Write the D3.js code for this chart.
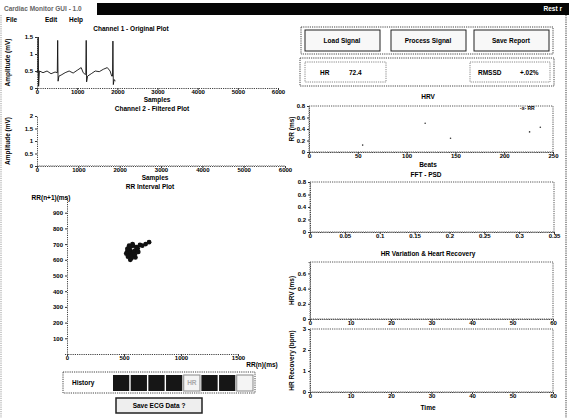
<!DOCTYPE html>
<html><head><meta charset="utf-8">
<script src="https://cdn.jsdelivr.net/npm/d3@7"></script>
<style>
body{margin:0;background:#fff;}
svg{display:block;font-family:"Liberation Sans",Arial,sans-serif;}
.t{font-size:6.5px;font-weight:bold;fill:#000;}
.tick text{font-size:6px;font-weight:bold;fill:#000;}
.tick line{stroke:#333;}
.domain{stroke:#444;stroke-dasharray:1.2,1;}
</style></head>
<body>
<svg id="c" width="569" height="418"></svg>
<script>
// ---------------- data ----------------
const windowTitle = "Cardiac Monitor GUI - 1.0";
const menuItems = ["File", "Edit", "Help"];
const buttonLabels = ["Load Signal", "Process Signal", "Save Report"];
const statLabels = ["HR", "72.4", "RMSSD", "+.02%"];

const ch1Samples = [0,20,30,40,60,150,250,350,450,505,515,525,545,600,700,800,900,1000,1100,1150,1200,1215,1225,1235,1260,1350,1450,1550,1650,1750,1820,1860,1880,1890,1900,1920,1950];
const ch1Values  = [0.45,0.5,1.5,0.05,0.5,0.45,0.5,0.42,0.47,0.45,1.4,0.2,0.35,0.38,0.45,0.5,0.44,0.52,0.6,0.45,0.4,0.4,1.4,0.18,0.35,0.42,0.5,0.48,0.55,0.6,0.5,0.35,0.35,1.38,0.1,0.25,0.2];
const ch1Ticks = [0,1000,2000,3000,4000,5000,6000];
const ch1YTicks = [0,0.5,1,1.5];

const ch2Samples = [0,6000];
const ch2Values  = [0.02,0.02];
const ch2YTicks = [0,0.5,1,1.5,2];

const rrN  = [520,530,545,560,535,550,575,590,540,565,580,600,620,555,570,610,640,660,690,720,585,600,625,545,530,575,595,560];
const rrN1 = [640,655,630,650,620,665,640,655,675,610,690,660,672,600,625,680,695,690,700,712,645,615,650,690,670,700,635,685];
const rrXTicks = [0,500,1000,1500];
const rrYTicks = [100,200,300,400,500,600,700,800,900];

const hrvBeats = [55,119,145,226,237];
const hrvValues = [0.12,0.5,0.24,0.35,0.43];
const hrvXTicks = [0,50,100,150,200,250];
const hrvYTicks = [0,0.2,0.4,0.6,0.8];

const psdXTicks = [0,0.05,0.1,0.15,0.2,0.25,0.3,0.35];
const psdYTicks = [0,0.2,0.4,0.6,0.8];

const timeTicks = [0,10,20,30,40,50,60];
const hrvTopYTicks = [0,0.2,0.4,0.6];
const hrrYTicks = [0,1,2,3];

const historyCells = [1,1,1,1,0,1,1,0];

// ---------------- drawing ----------------
const svg = d3.select("#c");
const dash = "1.2,1";

// window chrome
svg.append("rect").attr("x",97).attr("y",3).attr("width",472).attr("height",12).attr("fill","#050505");
svg.append("text").attr("class","t").attr("x",4).attr("y",11).style("fill","#666").text(windowTitle);
svg.append("text").attr("class","t").attr("x",562).attr("y",11).attr("text-anchor","end").style("fill","#fff").text("Rest r");
menuItems.forEach((m,i)=>{
  svg.append("text").attr("class","t").attr("x",[6,45,69][i]).attr("y",22).text(m);
});
svg.append("line").attr("x1",566).attr("x2",566).attr("y1",15).attr("y2",418).attr("stroke","#333").attr("stroke-dasharray",dash);
svg.append("line").attr("x1",1).attr("x2",1).attr("y1",15).attr("y2",418).attr("stroke","#999").attr("stroke-dasharray",dash);

function panel(o){
  const g = svg.append("g");
  const x = d3.scaleLinear().domain(o.xd).range([o.x0,o.x1]);
  const y = d3.scaleLinear().domain(o.yd).range([o.y1,o.y0]);
  if(o.frame){
    g.append("rect").attr("x",o.x0).attr("y",o.y0).attr("width",o.x1-o.x0).attr("height",o.y1-o.y0)
     .attr("fill","none").attr("stroke","#555").attr("stroke-dasharray",dash);
  }
  const ax = g.append("g").attr("transform",`translate(0,${o.y1})`)
    .call(d3.axisBottom(x).tickValues(o.xt).tickSize(2).tickPadding(1).tickFormat(o.xf||d3.format("")));
  const ay = g.append("g").attr("transform",`translate(${o.x0},0)`)
    .call(d3.axisLeft(y).tickValues(o.yt).tickSize(2).tickPadding(2).tickFormat(o.yf||d3.format("")));
  ax.selectAll("text").attr("dy","0.55em");
  if(o.title) svg.append("text").attr("class","t").attr("x",o.tx).attr("y",o.ty).attr("text-anchor","middle").text(o.title);
  if(o.xl) svg.append("text").attr("class","t").attr("x",o.xlx).attr("y",o.xly).attr("text-anchor","middle").text(o.xl);
  if(o.yl) svg.append("text").attr("class","t").attr("transform",`translate(${o.ylx},${(o.y0+o.y1)/2}) rotate(-90)`).attr("text-anchor","middle").text(o.yl);
  return {g,x,y};
}

// Channel 1
const p1 = panel({x0:37,x1:278,y0:37,y1:88,xd:[0,6000],yd:[0,1.5],xt:ch1Ticks,yt:ch1YTicks,
  title:"Channel 1 - Original Plot",tx:131,ty:31,xl:"Samples",xlx:157,xly:102,yl:"Amplitude (mV)",ylx:10});
p1.g.append("path").datum(ch1Samples.map((s,i)=>[s,ch1Values[i]]))
  .attr("d",d3.line().x(d=>p1.x(d[0])).y(d=>p1.y(d[1])))
  .attr("fill","none").attr("stroke","#111").attr("stroke-width",0.9);

// Channel 2
const p2 = panel({x0:37,x1:285,y0:116,y1:166,xd:[0,6000],yd:[0,2],xt:ch1Ticks,yt:ch2YTicks,
  title:"Channel 2 - Filtered Plot",tx:152,ty:111,xl:"Samples",xlx:155,xly:180,yl:"Amplitude (mV)",ylx:10});
p2.g.append("path").datum(ch2Samples.map((s,i)=>[s,ch2Values[i]]))
  .attr("d",d3.line().x(d=>p2.x(d[0])).y(d=>p2.y(d[1])))
  .attr("fill","none").attr("stroke","#666").attr("stroke-width",0.6).attr("stroke-dasharray",dash);

// Poincare
const p3 = panel({x0:67,x1:238,y0:197,y1:354,xd:[0,1500],yd:[0,1000],xt:rrXTicks,yt:rrYTicks,
  title:"RR Interval Plot",tx:150,ty:189});
svg.append("text").attr("class","t").attr("x",51).attr("y",200).attr("text-anchor","middle").text("RR(n+1)(ms)");
svg.append("text").attr("class","t").attr("x",262).attr("y",367).attr("text-anchor","middle").text("RR(n)(ms)");
p3.g.selectAll("circle").data(rrN).join("circle")
  .attr("cx",d=>p3.x(d)).attr("cy",(d,i)=>p3.y(rrN1[i])).attr("r",2.4).attr("fill","#111");

// History strip
svg.append("rect").attr("x",63).attr("y",372).attr("width",192).attr("height",21).attr("fill","#fff").attr("stroke","#444").attr("stroke-dasharray",dash);
svg.append("text").attr("class","t").attr("x",72).attr("y",385).text("History");
const cx = d3.scaleBand().domain(d3.range(historyCells.length)).range([113,253]).paddingInner(0.08);
svg.selectAll(".cell").data(historyCells).join("rect").attr("class","cell")
  .attr("x",(d,i)=>cx(i)).attr("y",375).attr("width",cx.bandwidth()).attr("height",16)
  .attr("fill",d=>d?"#161616":"#f4f4f4").attr("stroke",d=>d?"none":"#888");
svg.append("text").attr("class","t").attr("x",cx(4)+cx.bandwidth()/2).attr("y",385).attr("text-anchor","middle").style("fill","#aaa").text("HR");
svg.append("rect").attr("x",116).attr("y",398).attr("width",86).attr("height",15).attr("fill","#eee").attr("stroke","#222").attr("stroke-width",1.5);
svg.append("text").attr("class","t").attr("x",159).attr("y",408).attr("text-anchor","middle").text("Save ECG Data ?");

// Buttons
svg.append("rect").attr("x",301).attr("y",27).attr("width",252).attr("height",27).attr("fill","none").attr("stroke","#444").attr("stroke-dasharray",dash);
[305,391,474].forEach((bx,i)=>{
  svg.append("rect").attr("x",bx).attr("y",30).attr("width",75).attr("height",21).attr("fill","#f8f8f8").attr("stroke","#222").attr("stroke-width",1);
  svg.append("text").attr("class","t").attr("x",bx+37).attr("y",43).attr("text-anchor","middle").text(buttonLabels[i]);
});
svg.append("rect").attr("x",300).attr("y",58).attr("width",254).attr("height",28).attr("fill","none").attr("stroke","#444").attr("stroke-dasharray",dash);
svg.append("rect").attr("x",305).attr("y",62).attr("width",81).attr("height",20).attr("fill","none").attr("stroke","#888").attr("stroke-dasharray",dash);
svg.append("rect").attr("x",470).attr("y",62).attr("width",80).attr("height",20).attr("fill","none").attr("stroke","#888").attr("stroke-dasharray",dash);
svg.append("text").attr("class","t").attr("x",320).attr("y",75).text(statLabels[0]);
svg.append("text").attr("class","t").attr("x",349).attr("y",75).text(statLabels[1]);
svg.append("text").attr("class","t").attr("x",478).attr("y",75).text(statLabels[2]);
svg.append("text").attr("class","t").attr("x",520).attr("y",75).text(statLabels[3]);

// HRV
const p4 = panel({x0:309,x1:553,y0:106,y1:152,xd:[0,250],yd:[0,0.8],xt:hrvXTicks,yt:hrvYTicks,frame:true,
  title:"HRV",tx:428,ty:99,xl:"Beats",xlx:428,xly:167,yl:"RR (ms)",ylx:294});
p4.g.selectAll("circle").data(hrvBeats).join("circle")
  .attr("cx",d=>p4.x(d)).attr("cy",(d,i)=>p4.y(hrvValues[i])).attr("r",0.8).attr("fill","#333");
svg.append("text").attr("class","t").attr("x",520).attr("y",110).style("font-size","5px").text("-x- RR");

// PSD
panel({x0:310,x1:554,y0:182,y1:232,xd:[0,0.35],yd:[0,0.8],xt:psdXTicks,yt:psdYTicks,frame:true,
  title:"FFT - PSD",tx:426,ty:177});

// HRV & recovery
panel({x0:310,x1:553,y0:262,y1:319,xd:[0,60],yd:[0,0.75],xt:timeTicks,yt:hrvTopYTicks,frame:true,
  title:"HR Variation & Heart Recovery",tx:428,ty:256,yl:"HRV (ms)",ylx:294});
panel({x0:310,x1:553,y0:329,y1:392,xd:[0,60],yd:[0,3],xt:timeTicks,yt:hrrYTicks,frame:true,
  xl:"Time",xlx:428,xly:410,yl:"HR Recovery (bpm)",ylx:294});
</script>
</body></html>
